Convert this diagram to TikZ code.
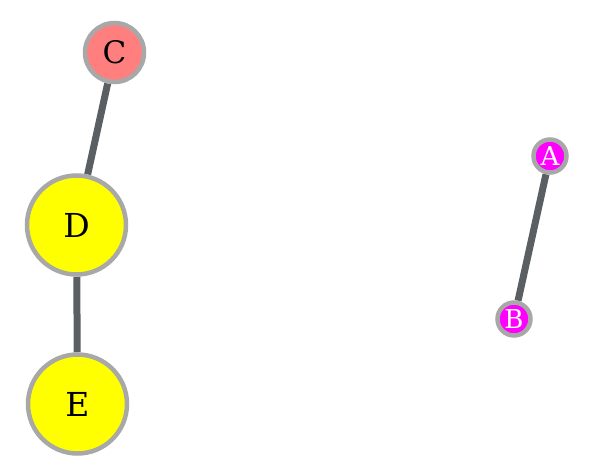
\documentclass[tikz,border=0pt]{standalone}
\usepackage{fontspec}
\setmainfont{DejaVu Serif}
\usetikzlibrary{backgrounds}

\definecolor{edgegray}{HTML}{5A5F63}
\definecolor{rimgray}{HTML}{A8A8A8}
\definecolor{salmon}{HTML}{FF7F7F}
\definecolor{lemon}{HTML}{FFFF00}
\definecolor{fuchsia}{HTML}{FF00FF}

\begin{document}
\begin{tikzpicture}[
    x=1pt,
    y=-1pt,
    vertex/.style={
        circle,
        draw=rimgray,
        line width=4.5pt,
        inner sep=0pt
    },
    bigvertex/.style={
        vertex,
        fill=lemon,
        minimum size=99pt,
        font=\fontsize{33pt}{35pt}\selectfont
    },
    smallvertex/.style={
        vertex,
        fill=fuchsia,
        text=white,
        minimum size=33pt,
        font=\fontsize{26pt}{28pt}\selectfont
    },
    link/.style={
        draw=edgegray,
        line width=7pt
    }
]

    \useasboundingbox (0,0) rectangle (600,474);

    % -------------------------------------------------------
    % Left component
    % -------------------------------------------------------
    \node[
        vertex,
        fill=salmon,
        minimum size=59pt,
        font=\fontsize{31pt}{33pt}\selectfont
    ] (c) at (114.5,52.5) {C};

    \node[bigvertex] (d) at (76.5,225) {D};

    \node[bigvertex] (e) at (77.5,404) {E};

    % -------------------------------------------------------
    % Right component
    % -------------------------------------------------------
    \node[smallvertex] (a) at (550,156) {A};

    \node[smallvertex] (b) at (514,319) {B};

    % -------------------------------------------------------
    % Edges (behind the vertices)
    % -------------------------------------------------------
    \begin{scope}[on background layer]
        \draw[link] (c) -- (d);
        \draw[link] (d) -- (e);
        \draw[link] (a) -- (b);
    \end{scope}

\end{tikzpicture}
\end{document}
